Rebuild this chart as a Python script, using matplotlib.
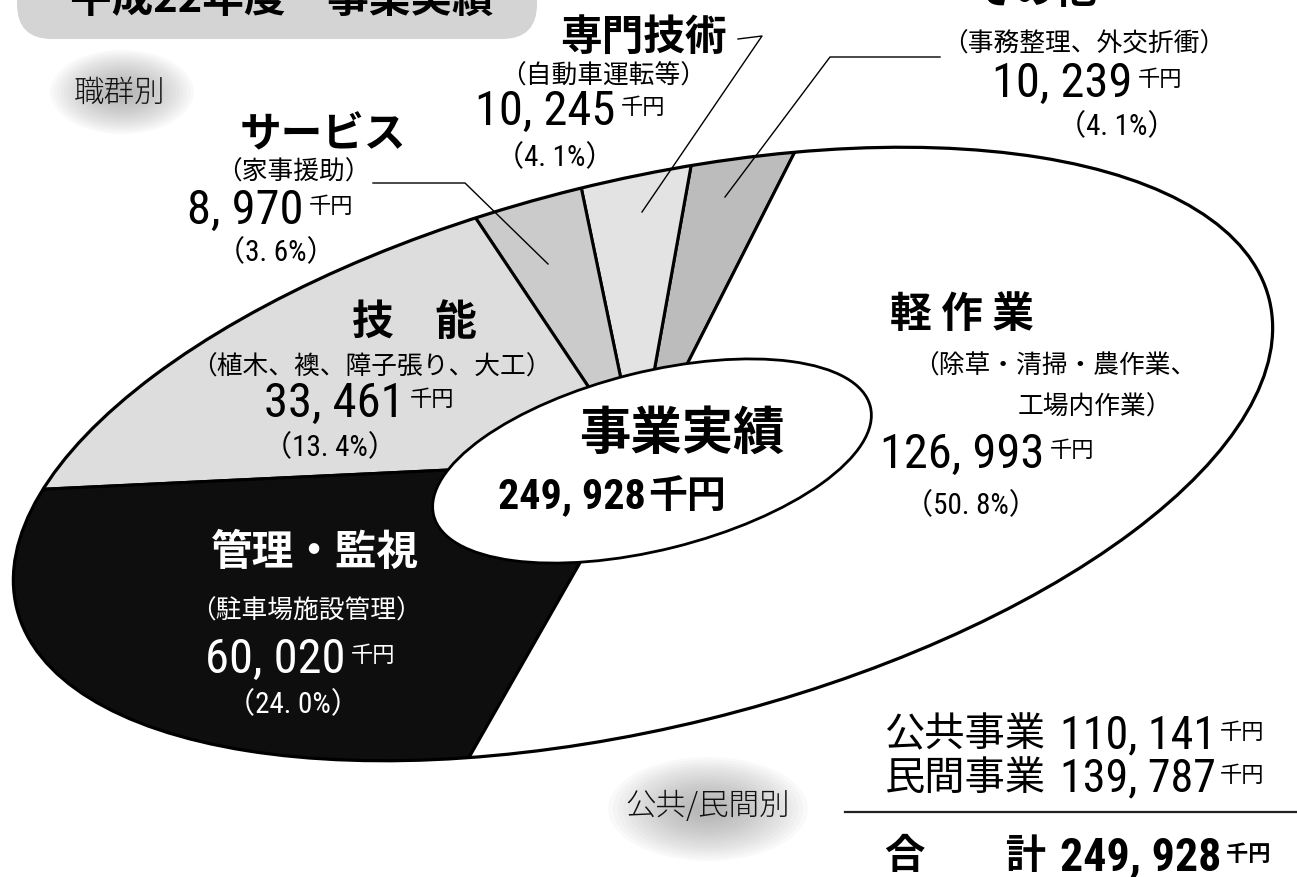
import numpy as np
import matplotlib.pyplot as plt
from matplotlib import font_manager as fm
from matplotlib.patches import Ellipse, FancyBboxPatch
from matplotlib.transforms import Affine2D

plt.rcParams['font.family'] = ['Noto Sans CJK JP', 'DejaVu Sans']

# narrow digits if the machine has them, otherwise a plain sans a bit smaller
avail = {f.name for f in fm.fontManager.ttflist}
if 'Liberation Sans Narrow' in avail:
    NUM_FONT, SHRINK = 'Liberation Sans Narrow', 1.0
elif 'Roboto Condensed' in avail:
    NUM_FONT, SHRINK = 'Roboto Condensed', 0.92
else:
    NUM_FONT, SHRINK = 'Liberation Sans', 0.86
NUM = [NUM_FONT, 'Noto Sans CJK JP']

# data (thousand yen), order = counter-clockwise from the top right
jobs = ['その他', '専門技術', 'サービス', '技　能', '管理・監視', '軽 作 業']
details = ['（事務整理、外交折衝）', '（自動車運転等）', '（家事援助）',
           '（植木、襖、障子張り、大工）', '（駐車場施設管理）',
           '（除草・清掃・農作業、\n工場内作業）']
amounts = [10239, 10245, 8970, 33461, 60020, 126993]
shades = ['#bcbcbc', '#e3e3e3', '#cbcbcb', '#dddddd', '#0e0e0e', '#ffffff']

sectors = ['公共事業', '民間事業']
sector_amounts = [110141, 139787]

total = sum(amounts)


def fmt(v):
    return f'{v:,}'.replace(',', ', ')


fig = plt.figure(figsize=(12.97, 8.78), dpi=100)
ax = fig.add_axes([0, 0, 1, 1])


def blob(cx, cy, rx, ry):
    # soft grey cloud behind the small captions
    for s in np.linspace(1.0, 0.15, 18):
        ax.add_patch(Ellipse((cx, cy), 2 * rx * s, 2 * ry * s, fc='#8a8a8a',
                             ec='none', alpha=0.045, zorder=0))


# title banner (cut at the top of the page)
ax.add_patch(FancyBboxPatch((17, -60), 520, 100,
                            boxstyle='round,pad=0,rounding_size=35',
                            fc='#d4d4d4', ec='none', zorder=0))
ax.text(70, 13, '平成22年度　事業実績', fontsize=30, fontweight='bold',
        va='baseline', ha='left', zorder=5)

blob(122, 93, 72, 42)
ax.text(120, 93, '職群別', fontsize=22, fontweight='light',
        ha='center', va='center', zorder=5, color='#111111')
blob(708, 810, 100, 52)
ax.text(708, 806, '公共/民間別', fontsize=22, fontweight='light',
        ha='center', va='center', zorder=5, color='#111111')

# tilted pie: outer ellipse + wedges squashed by an affine transform
outer = Ellipse((643, 455), 1290, 546, angle=-13.85, fill=False,
                ec='black', lw=2.3, zorder=3)
ax.add_patch(outer)

tilt = Affine2D().scale(1, 0.58).rotate_deg(27).scale(1, -1).translate(638, 462)
wedges, _ = ax.pie(amounts, startangle=51.5, counterclock=True, radius=3000,
                   colors=shades,
                   wedgeprops=dict(edgecolor='black', linewidth=2.2))
for w in wedges:
    w.set_transform(tilt + ax.transData)
    w.set_clip_on(True)
    w.set_clip_path(outer)
    w.set_zorder(1)

ax.add_patch(Ellipse((652, 462), 450, 178, angle=-14, fc='white',
                     ec='black', lw=2.0, zorder=4))
ax.text(682, 433, '事業実績', fontsize=37, fontweight='bold',
        ha='center', va='center', zorder=5)
t = ax.text(498, 497, fmt(total), fontsize=33 * SHRINK, fontweight='bold',
            family=NUM, ha='left', va='center', zorder=5)
ax.annotate('千円', xy=(1, 0.5), xycoords=t, xytext=(2, 0),
            textcoords='offset points', fontsize=28, fontweight='bold',
            ha='left', va='center', zorder=5)

# label blocks: title, detail, amount, share
layout = [
    dict(title=(1035, -9), sub=(1084, 45), num=(992, 84), pct=(1117, 127)),
    dict(title=(643, 38), sub=(603, 77), num=(475, 112), pct=(555, 158)),
    dict(title=(323, 135), sub=(293, 173), num=(187, 211), pct=(276, 253)),
    dict(title=(414, 323), sub=(371, 368), num=(264, 404), pct=(330, 448)),
    dict(title=(315, 553), sub=(306, 612), num=(205, 660), pct=(293, 705)),
    dict(title=(962, 315), sub=(913, 367), num=(880, 455), pct=(971, 506)),
]
for i, (name, det, val) in enumerate(zip(jobs, details, amounts)):
    pos = layout[i]
    col = 'white' if i == 4 else 'black'
    ax.text(*pos['title'], name, fontsize=30, fontweight='bold', color=col,
            ha='center', va='center', zorder=5)
    if '\n' in det:
        l1, l2 = det.split('\n')
        ax.text(*pos['sub'], l1, fontsize=18.5, color=col, ha='left',
                va='center', zorder=5)
        ax.text(1172, pos['sub'][1] + 41, l2, fontsize=18.5, color=col,
                ha='right', va='center', zorder=5)
    else:
        ax.text(*pos['sub'], det, fontsize=18.5, color=col, ha='center',
                va='center', zorder=5)
    t = ax.text(*pos['num'], fmt(val), fontsize=38 * SHRINK, family=NUM,
                color=col, ha='left', va='center', zorder=5)
    ax.annotate('千円', xy=(1, 0.6), xycoords=t, xytext=(4, 0),
                textcoords='offset points', fontsize=16, color=col,
                ha='left', va='center', zorder=5)
    ax.text(*pos['pct'], f'（{val / total * 100:.1f}%）'.replace('.', '. '),
            fontsize=21, family=NUM, color=col, ha='center', va='center',
            zorder=5)

# leader lines
lk = dict(color='black', lw=1.0, zorder=5)
ax.plot([373, 465, 548], [184, 184, 265], **lk)
ax.plot([738, 762, 642], [40, 37, 213], **lk)
ax.plot([940, 830, 725], [58, 58, 198], **lk)

# public / private table
for j, (s, v) in enumerate(zip(sectors, sector_amounts)):
    y = 735 + 43 * j
    ax.text(885, y, s, fontsize=29, ha='left', va='center', zorder=5)
    t = ax.text(1060, y, fmt(v), fontsize=36 * SHRINK, family=NUM,
                ha='left', va='center', zorder=5)
    ax.annotate('千円', xy=(1, 0.55), xycoords=t, xytext=(3, 0),
                textcoords='offset points', fontsize=16, ha='left',
                va='center', zorder=5)
ax.plot([845, 1297], [813, 813], color='#222222', lw=1.6, zorder=5)
ax.text(885, 857, '合　　計', fontsize=29, fontweight='bold', ha='left',
        va='center', zorder=5)
t = ax.text(1060, 857, fmt(sum(sector_amounts)), fontsize=36 * SHRINK,
            fontweight='bold', family=NUM, ha='left', va='center', zorder=5)
ax.annotate('千円', xy=(1, 0.55), xycoords=t, xytext=(3, 0),
            textcoords='offset points', fontsize=16, fontweight='bold',
            ha='left', va='center', zorder=5)

ax.set_xlim(0, 1297)
ax.set_ylim(878, 0)
ax.set_axis_off()
fig.savefig('out.png', dpi=100)
